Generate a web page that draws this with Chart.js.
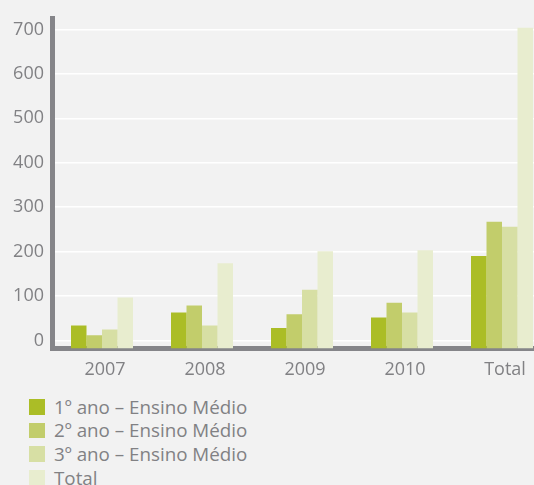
<!DOCTYPE html>
<html lang="pt">
<head>
  <meta charset="UTF-8">
  <title>Ensino Médio</title>
  <script src="https://cdn.jsdelivr.net/npm/chart.js"></script>
  <style>
    body { margin: 0; background: #f2f2f2; overflow: hidden; font-family: "Open Sans", sans-serif; }
    #wrap { position: relative; width: 552px; height: 384px; }
    #legend { position: absolute; left: 29px; top: 395px; }
    .row { display: flex; align-items: center; height: 23.6px; color: #818184; font-size: 18.8px; }
    .sq { width: 15.5px; height: 15.5px; margin-right: 9.5px; }
  </style>
</head>
<body>
  <div id="wrap"><canvas id="chart" width="552" height="384"></canvas></div>
  <div id="legend"></div>

  <script>
    const categories = ['2007', '2008', '2009', '2010', 'Total'];
    const seriesNames = ['1º ano – Ensino Médio', '2º ano – Ensino Médio', '3º ano – Ensino Médio', 'Total'];
    const ano1 = [34, 63, 28, 52, 190];
    const ano2 = [12, 79, 59, 85, 267];
    const ano3 = [25, 34, 114, 63, 256];
    const total = [97, 174, 201, 203, 704];
    const yTicks = [0, 100, 200, 300, 400, 500, 600, 700];

    const colors = ['#abbd26', '#c2cd6b', '#d7dfa4', '#e8edcf'];
    const values = [ano1, ano2, ano3, total];
    const yMin = -18, yMax = 724;
    const textColor = '#818184';
    const axisColor = '#858589';

    const ctx = document.getElementById('chart').getContext('2d');
    new Chart(ctx, {
      type: 'bar',
      data: {
        labels: categories,
        datasets: values.map((v, i) => ({
          label: seriesNames[i],
          data: v,
          backgroundColor: colors[i],
          borderWidth: 0,
          base: yMin,
          categoryPercentage: 0.62,
          barPercentage: 1
        }))
      },
      options: {
        responsive: false,
        animation: false,
        layout: { padding: { top: 14, left: 0, right: 0, bottom: 0 } },
        plugins: { legend: { display: false }, tooltip: { enabled: false } },
        scales: {
          x: {
            z: 1,
            grid: { display: false, drawTicks: false },
            border: { display: true, color: axisColor, width: 5 },
            ticks: { color: textColor, font: { family: 'Open Sans', size: 18 }, padding: 11, labelOffset: 3 },
            afterFit: s => { s.height = 35.5; }
          },
          y: {
            min: yMin,
            max: yMax,
            afterBuildTicks: s => { s.ticks = yTicks.map(v => ({ value: v })); },
            grid: { color: '#ffffff', lineWidth: 1.5, drawTicks: false },
            border: { display: true, color: axisColor, width: 5 },
            ticks: { color: textColor, font: { family: 'Open Sans', size: 18 }, padding: 8 },
            afterFit: s => { s.width = 52; }
          }
        }
      }
    });

    // Legend
    const legend = document.getElementById('legend');
    seriesNames.forEach((name, i) => {
      const row = document.createElement('div');
      row.className = 'row';
      row.innerHTML = `<span class="sq" style="background:${colors[i]}"></span><span>${name}</span>`;
      legend.appendChild(row);
    });
  </script>
</body>
</html>
